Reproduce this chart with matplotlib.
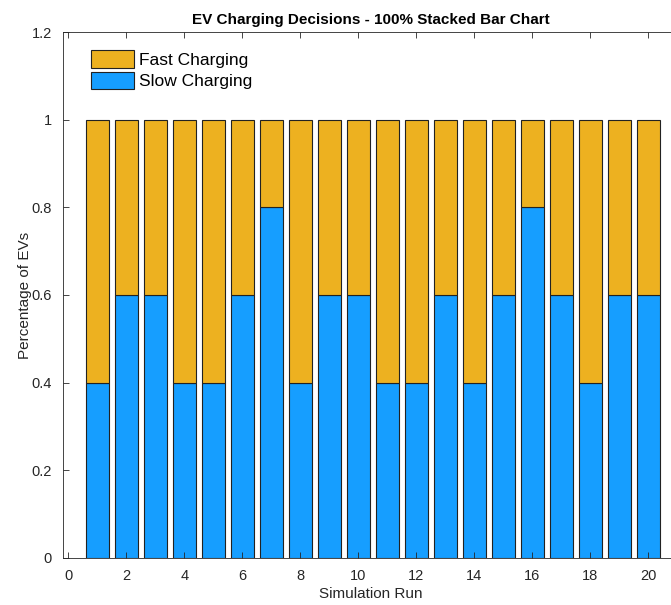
import numpy as np
from matplotlib import pyplot as plt

plt.rcParams['font.family'] = ['Liberation Sans', 'DejaVu Sans']

# Share of EVs choosing each charging mode per simulation run
runs = np.arange(1, 21)
slow_share = [0.4, 0.6, 0.6, 0.4, 0.4, 0.6, 0.8, 0.4, 0.6, 0.6,
              0.4, 0.4, 0.6, 0.4, 0.6, 0.8, 0.6, 0.4, 0.6, 0.6]
fast_share = [round(1 - s, 2) for s in slow_share]

slow_color = '#169EFF'
fast_color = '#EDB120'

fig = plt.figure(figsize=(6.71, 6.05), dpi=100)
ax = fig.add_axes([0.094, 0.078, 0.9165, 0.869])

ax.bar(runs, slow_share, width=0.8, color=slow_color, edgecolor='#222222',
       linewidth=0.8, label='Slow Charging')
ax.bar(runs, fast_share, width=0.8, bottom=slow_share, color=fast_color,
       edgecolor='#222222', linewidth=0.8, label='Fast Charging')

ax.set_xlim(-0.18, 21.02)
ax.set_ylim(0, 1.2)
ax.set_xticks(range(0, 21, 2))
ax.set_yticks(np.arange(0, 1.21, 0.2))
ax.set_yticklabels(['0', '0.2', '0.4', '0.6', '0.8', '1', '1.2'])
ax.tick_params(direction='in', top=True, right=True, labelsize=10.5,
               colors='#262626', length=4, width=0.6, pad=8)
for sp in ax.spines.values():
    sp.set_color('#262626')
    sp.set_linewidth(0.6)

ax.set_xlabel('Simulation Run', fontsize=11, color='#262626', labelpad=3)
ax.set_ylabel('Percentage of EVs', fontsize=11, color='#262626', labelpad=0)
ax.set_title('EV Charging Decisions - 100% Stacked Bar Chart',
             fontsize=11, fontweight='bold', pad=6)

handles, labels = ax.get_legend_handles_labels()
ax.legend(handles[::-1], labels[::-1], loc='upper left', frameon=False,
          fontsize=12.5, bbox_to_anchor=(0.02, 0.995), handlelength=2.5,
          handleheight=1.2, handletextpad=0.25, labelspacing=0.2)

fig.savefig('out.png', dpi=100)
